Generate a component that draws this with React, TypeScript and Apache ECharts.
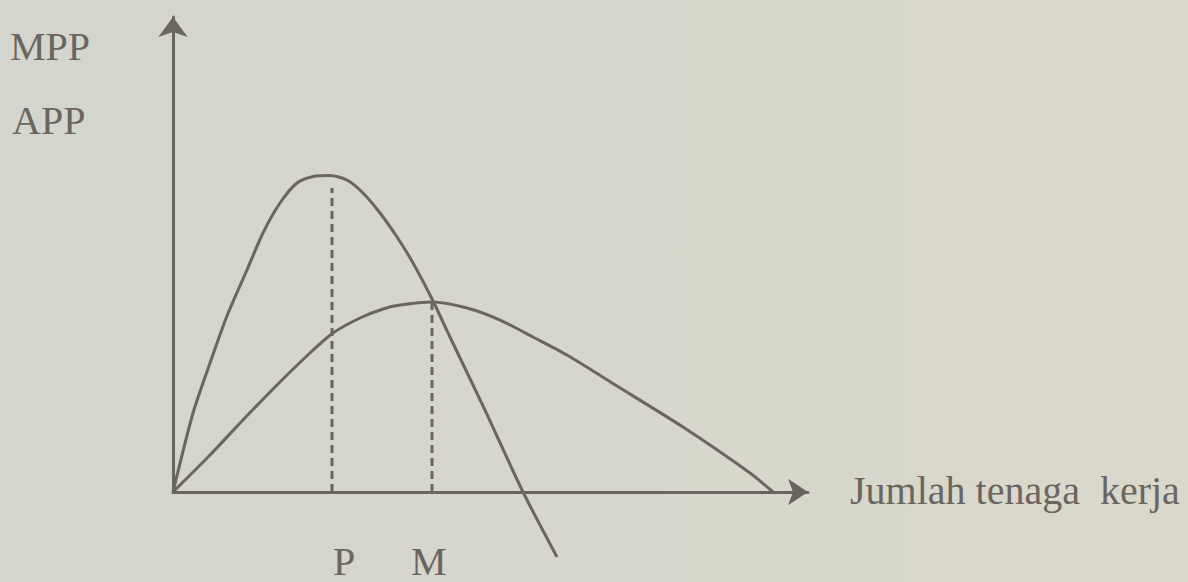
import React, { useEffect, useRef } from "react";
import * as echarts from "echarts";

// Marginal physical product curve (x = labour, y = product)
const mppX = [0, 0.315, 0.583, 0.85, 1.165, 1.417, 1.685, 1.953, 2.205, 2.472, 2.74, 2.992, 3.26, 3.528, 3.78, 4.079, 4.362, 4.882, 5.512, 6.047];
const mppY = [0, 1.663, 2.716, 3.705, 4.674, 5.453, 6.084, 6.505, 6.642, 6.663, 6.568, 6.295, 5.874, 5.368, 4.821, 4.063, 3.263, 1.811, 0, -1.368];

// Average physical product curve
const appX = [0, 0.583, 1.102, 1.638, 2.157, 2.52, 2.945, 3.307, 3.575, 4.079, 4.63, 5.15, 5.669, 6.205, 6.992, 8.031, 9.087, 9.449];
const appY = [0, 0.779, 1.516, 2.253, 2.926, 3.347, 3.663, 3.853, 3.937, 4.0, 3.874, 3.621, 3.263, 2.884, 2.232, 1.368, 0.4, 0];

// Dashed guides: P (max MPP) and M (MPP = APP)
const guideX = [2.504, 4.079];
const guideTop = [6.4, 4.0];
const guideLabels = ["P", "M"];

const yLabels = ["MPP", "APP"];
const xTitle = "Jumlah tenaga  kerja";

const INK = "#6b655f";
const FONT = '"Liberation Serif", "DejaVu Serif", serif';

export default function App() {
  const ref = useRef<HTMLDivElement>(null);
  useEffect(() => {
    document.body.style.margin = "0";
    const chart = echarts.init(ref.current!, undefined, { renderer: "svg" });
    const pair = (xs: number[], ys: number[]) => xs.map((x, i) => [x, ys[i]]);
    const series: any[] = [
      {
        type: "line",
        data: pair(mppX, mppY),
        smooth: 0.25,
        showSymbol: false,
        clip: false,
        lineStyle: { color: INK, width: 3 },
        z: 3,
      },
      {
        type: "line",
        data: pair(appX, appY),
        smooth: 0.25,
        showSymbol: false,
        clip: false,
        lineStyle: { color: INK, width: 3 },
        z: 3,
      },
    ];
    guideX.forEach((gx, i) => {
      series.push({
        type: "line",
        data: [
          [gx, 0],
          [gx, guideTop[i]],
        ],
        showSymbol: false,
        lineStyle: { color: INK, width: 3, type: [8, 5] },
        z: 2,
      });
    });
    chart.setOption({
      animation: false,
      backgroundColor: {
        type: "linear",
        x: 0,
        y: 0,
        x2: 1,
        y2: 0,
        colorStops: [
          { offset: 0, color: "#d4d5cc" },
          { offset: 0.5, color: "#d6d6cc" },
          { offset: 1, color: "#dad8ca" },
        ],
      },
      grid: { left: 173, right: 380, top: 17, bottom: 90 },
      xAxis: {
        type: "value",
        min: 0,
        max: 10,
        axisLine: {
          onZero: false,
          lineStyle: { color: INK, width: 3 },
          symbol: ["none", "arrow"],
          symbolSize: [20, 20],
        },
        axisTick: { show: false },
        axisLabel: { show: false },
        splitLine: { show: false },
      },
      yAxis: {
        type: "value",
        min: 0,
        max: 10,
        axisLine: {
          show: true,
          onZero: false,
          lineStyle: { color: INK, width: 3 },
          symbol: ["none", "arrow"],
          symbolSize: [22, 20],
        },
        axisTick: { show: false },
        axisLabel: { show: false },
        splitLine: { show: false },
      },
      graphic: [
        { type: "text", left: 10, top: 26, style: { text: yLabels[0], font: `40px ${FONT}`, fill: INK } },
        { type: "text", left: 12, top: 100, style: { text: yLabels[1], font: `40px ${FONT}`, fill: INK } },
        { type: "text", left: 850, top: 470, style: { text: xTitle, font: `40px ${FONT}`, fill: INK } },
        { type: "text", left: 333, top: 541, style: { text: guideLabels[0], font: `40px ${FONT}`, fill: INK } },
        { type: "text", left: 411, top: 541, style: { text: guideLabels[1], font: `40px ${FONT}`, fill: INK } },
      ],
      series,
    });
    return () => chart.dispose();
  }, []);
  return <div ref={ref} style={{ position: "fixed", left: 0, top: 0, width: 1188, height: 582 }} />;
}
